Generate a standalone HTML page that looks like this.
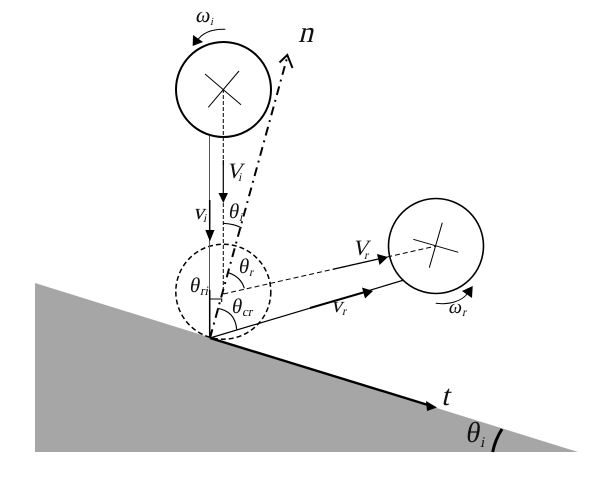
<!DOCTYPE html>
<html><head><meta charset="utf-8"><style>
html,body{margin:0;padding:0;background:#fff}
svg{display:block}
text{font-family:"Liberation Serif","Times New Roman",Times,serif;font-style:normal;fill:#111}
</style></head><body>
<svg width="602" height="478" viewBox="0 0 602 478" xmlns="http://www.w3.org/2000/svg">
<polygon points="35,283 578,452 35,452" fill="#a6a6a6"/>
<g fill="none" stroke="#000">
<circle cx="223.500" cy="89.500" r="47.500" stroke-width="2"/>
<circle cx="436" cy="246" r="47.500" stroke-width="1.600"/>
<circle cx="223.300" cy="291.700" r="47.500" stroke-width="1.500" stroke-dasharray="5 3"/>
<path d="M205 74L241 104.700M239 71L208.300 107.300M413.300 239.300L458.300 252.300M442.300 222.700L429.300 267.700" stroke-width="1"/>
<path d="M223.300 89V165M223.300 203V294" stroke-width="1" stroke-dasharray="4 2"/>
<path d="M223.300 160V195" stroke-width="1.200"/>
<path d="M209.500 136V338" stroke-width="1" stroke="#555"/>
<path d="M209.700 200V232M209.700 290V338" stroke-width="1.500"/>
<path d="M223.300 294L436 246" stroke-width="1" stroke-dasharray="5 3"/>
<path d="M333 269.200L380 258.600" stroke-width="1.300"/>
<path d="M210 338L404 280" stroke-width="1.200"/>
<path d="M310 308L365 292" stroke-width="2"/>
<path d="M210 338L287 58" stroke-width="2" stroke-dasharray="9 5 2 5"/>
<path d="M279.500 62.500L287.300 55L292.500 68" stroke-width="2"/>
<path d="M210 338L428 405" stroke-width="2.400"/>
<path d="M225.300 29.300C212 29 202 33 197 41" stroke-width="1"/>
<path d="M435.700 303.300C450 305 462 301 468 293" stroke-width="1"/>
<path d="M223.300 223.300Q235 224 241.700 228" stroke-width="1.100"/>
<path d="M228.300 272.700Q241 277 244.300 288.300" stroke-width="1.100"/>
<path d="M217.300 308.300Q235 311 236.700 329.300" stroke-width="1.100"/>
<path d="M210 299H221.700V302" stroke-width="1.100"/>
<path d="M502 429Q495 440 492.700 452" stroke-width="3"/>
</g>
<g fill="#000">
<polygon points="223.300,203 218.500,193 228,193"/>
<polygon points="209.900,241.500 205.300,230 214.500,230"/>
<polygon points="388,257 377,254 379.500,265"/>
<polygon points="373,291 362,287.500 365,298.500"/>
<polygon points="437,407.500 426,401 427,411"/>
<polygon points="192.700,46 193,35 203,42"/>
<polygon points="472.700,286 462,291 472,298"/>
</g>
<text transform="translate(298,42) skewX(-14)" font-size="30">n</text>
<text transform="translate(195,22) skewX(-10)" font-size="22">ω</text><text transform="translate(210,25) skewX(-12)" font-size="11">i</text>
<text transform="translate(226,178) skewX(-14)" font-size="22">V</text><text transform="translate(238,181) skewX(-12)" font-size="12">i</text>
<text transform="translate(193,219) skewX(-14)" font-size="22">v</text><text transform="translate(203,222) skewX(-12)" font-size="12">i</text>
<text transform="translate(228,218) skewX(-10)" font-size="21">θ</text><text transform="translate(239,221) skewX(-12)" font-size="12">i</text>
<text transform="translate(238,273) skewX(-10)" font-size="21">θ</text><text transform="translate(249,276) skewX(-12)" font-size="12">r</text>
<text transform="translate(189,292) skewX(-10)" font-size="21">θ</text><text transform="translate(200,295) skewX(-12)" font-size="13">ri</text>
<text transform="translate(231,313) skewX(-10)" font-size="21">θ</text><text transform="translate(242,316) skewX(-12)" font-size="13">cr</text>
<text transform="translate(352,255) skewX(-14)" font-size="22">V</text><text transform="translate(364,259) skewX(-12)" font-size="12">r</text>
<text transform="translate(331,312) skewX(-14)" font-size="22">v</text><text transform="translate(342,315) skewX(-12)" font-size="12">r</text>
<text transform="translate(448,313) skewX(-10)" font-size="20">ω</text><text transform="translate(462,316) skewX(-12)" font-size="12">r</text>
<text transform="translate(441,405) skewX(-14)" font-size="29">t</text>
<text transform="translate(465,442) skewX(-10)" font-size="29">θ</text><text transform="translate(480,447) skewX(-12)" font-size="15">i</text>
</svg>
</body></html>
